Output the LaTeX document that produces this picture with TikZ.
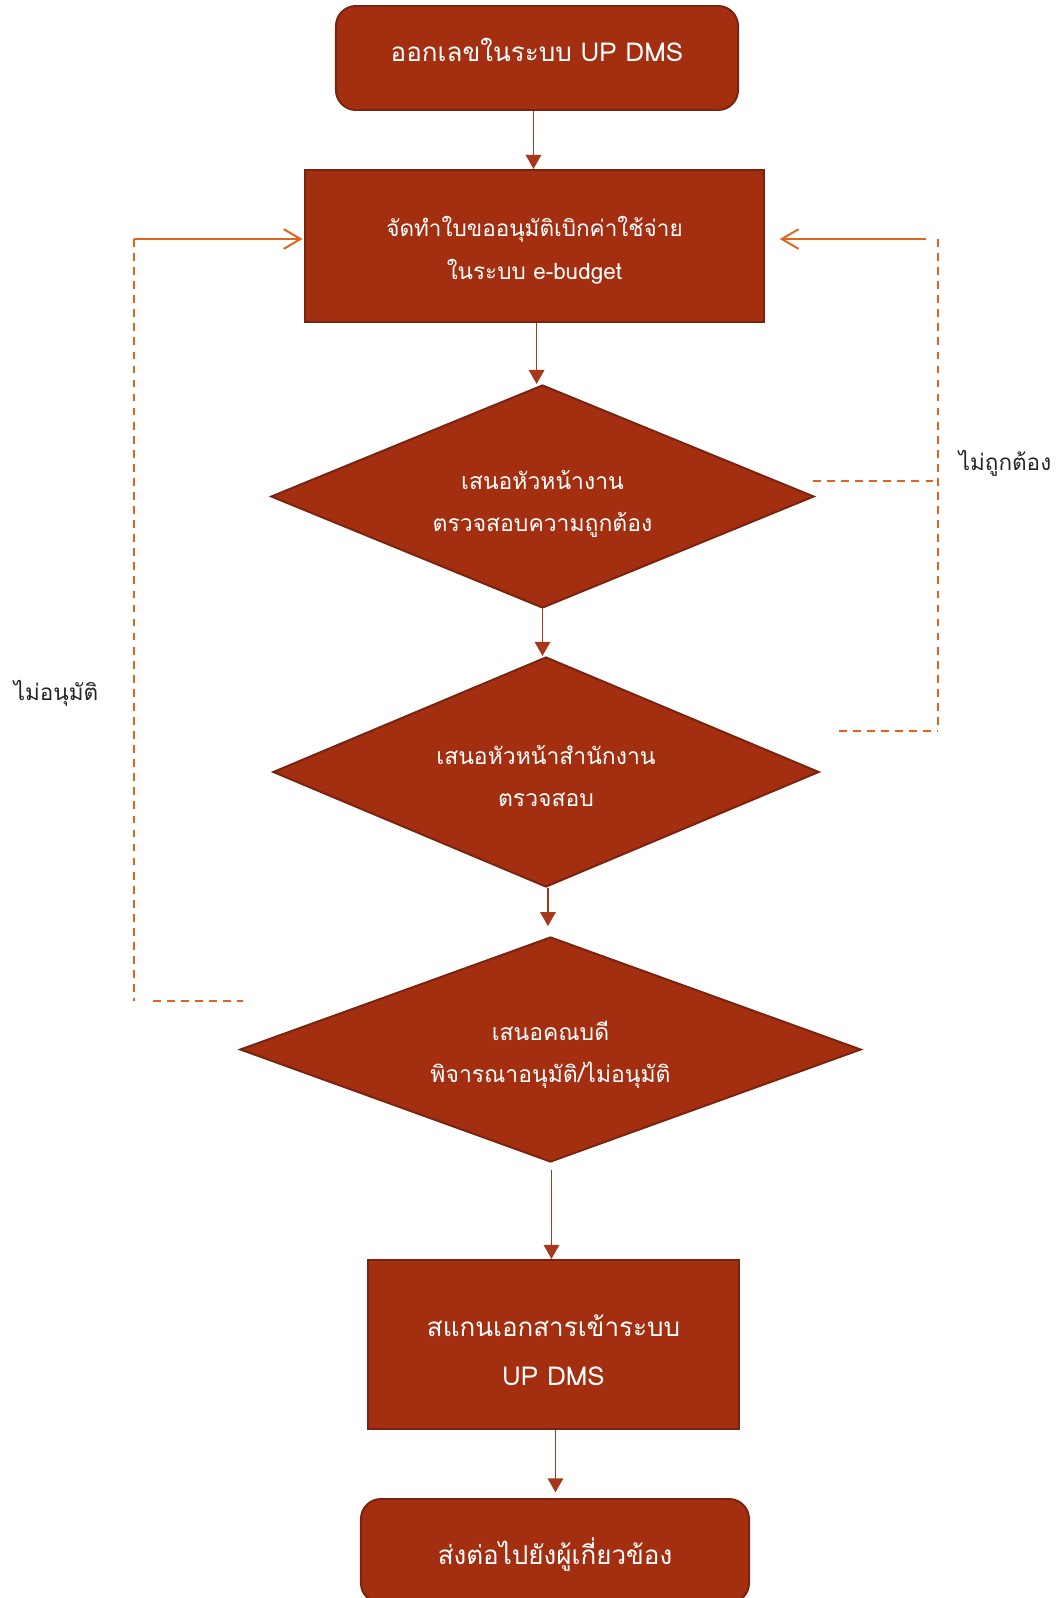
\documentclass[tikz,border=0pt]{standalone}
\usepackage{fontspec}
\setmainfont[Script=Thai]{Loma}
\usetikzlibrary{shapes.geometric,arrows.meta}

\definecolor{boxfill}{HTML}{A32E10}
\definecolor{boxline}{HTML}{7A2410}
\definecolor{flowline}{HTML}{A8381C}
\definecolor{backline}{HTML}{E0641E}

\tikzset{
  stepround/.style={draw=boxline, fill=boxfill, line width=1.4pt, rounded corners=0.5cm,
    text=white, align=center, inner sep=0pt, font=\fontsize{18.5}{35}\selectfont},
  stepsquare/.style={draw=boxline, fill=boxfill, line width=1.4pt,
    text=white, align=center, inner sep=0pt},
  stepcheck/.style={diamond, aspect=2.4, draw=boxline, fill=boxfill, line width=1.4pt,
    text=white, align=center, inner sep=0pt, font=\fontsize{16.3}{30}\selectfont},
  flow/.style={draw=flowline, line width=1.2pt, -{Triangle[length=10pt,width=11pt]}},
  back/.style={draw=backline, line width=1.6pt, dash pattern=on 5.5pt off 4.5pt},
  backarrow/.style={draw=backline, line width=1.4pt, -{Straight Barb[length=12pt,width=14pt]}},
  note/.style={text=black!85, font=\fontsize{16}{30}\selectfont}
}

\begin{document}
\begin{tikzpicture}[x=0.025cm, y=-0.025cm]
    \useasboundingbox (0, 0) rectangle (1060, 1598);

    %% steps
    \node[stepround, minimum width=10.05cm, minimum height=2.6cm,
        text height=4.3pt, text depth=0pt] (start) at(537, 58)
        {ออกเลขในระบบ UP DMS};
    \node[stepsquare, font=\fontsize{16}{30}\selectfont, minimum width=11.475cm, minimum height=3.8cm,
        text height=47pt, text depth=0pt] (draft) at(534.5, 246)
        {จัดทำใบขออนุมัติเบิกค่าใช้จ่าย\\ในระบบ e-budget};
    \node[stepcheck, minimum width=13.575cm, minimum height=5.575cm,
        text height=49.4pt, text depth=0pt] (check1) at(542.5, 496.5)
        {เสนอหัวหน้างาน\\ตรวจสอบความถูกต้อง};
    \node[stepcheck, minimum width=13.65cm, minimum height=5.75cm,
        text height=49.7pt, text depth=0pt] (check2) at(546, 772)
        {เสนอหัวหน้าสำนักงาน\\ตรวจสอบ};
    \node[stepcheck, minimum width=15.525cm, minimum height=5.625cm,
        text height=47.6pt, text depth=0pt] (dean) at(550.5, 1049.5)
        {เสนอคณบดี\\พิจารณาอนุมัติ/ไม่อนุมัติ};
    \node[stepsquare, font=\fontsize{18.5}{35}\selectfont, minimum width=9.275cm, minimum height=4.225cm,
        text height=58.7pt, text depth=0pt] (scan) at(553.5, 1344.5)
        {สแกนเอกสารเข้าระบบ\\UP DMS};
    \node[stepround, minimum width=9.7cm, minimum height=2.6cm,
        text height=19.1pt, text depth=0pt] (send) at(555, 1551)
        {ส่งต่อไปยังผู้เกี่ยวข้อง};

    %% main flow
    \draw[flow] ([xshift=-2.5pt]start.south) -- ([xshift=-2.5pt]start.south |- draft.north);
    \draw[flow] ([xshift=1.5pt]draft.south) -- ([xshift=1.5pt]draft.south |- check1.north);
    \draw[flow] (check1.south) -- (check1.south |- check2.north);
    \draw[flow, shorten >=7pt] ([xshift=1.4pt]check2.south) -- ([xshift=1.4pt]check2.south |- dean.north);
    \draw[flow, shorten <=5pt] ([xshift=0.7pt]dean.south) -- ([xshift=0.7pt]dean.south |- scan.north);
    \draw[flow, shorten >=4pt] ([xshift=1.4pt]scan.south) -- ([xshift=1.4pt]scan.south |- send.north);

    %% back right
    \coordinate (rtop) at(938, 239);
    \coordinate (rbot) at(938, 731);
    \coordinate (rfrom) at(926, 239);
    \coordinate (check1out) at(813, 481);
    \coordinate (check2out) at(839, 731);
    \draw[back] (rtop) -- (rbot);
    \draw[back] (check1out) -- (check1out -| rtop);
    \draw[back] (check2out) -- (rbot);
    \draw[backarrow, shorten >=10.5pt] (rfrom) -- (draft.east |- rfrom);
    \node[note] (wrongtxt) at(1005, 463){ไม่ถูกต้อง};

    %% back left
    \coordinate (ltop) at(134, 239);
    \coordinate (lbot) at(134, 1001);
    \coordinate (deanout) at(243, 1001);
    \coordinate (lgap) at(153, 1001);
    \draw[back] (ltop) -- (lbot);
    \draw[back] (lgap) -- (deanout);
    \draw[backarrow, shorten >=1pt] (ltop) -- (draft.west |- ltop);
    \node[note] (rejecttxt) at(56, 693){ไม่อนุมัติ};
\end{tikzpicture}
\end{document}
